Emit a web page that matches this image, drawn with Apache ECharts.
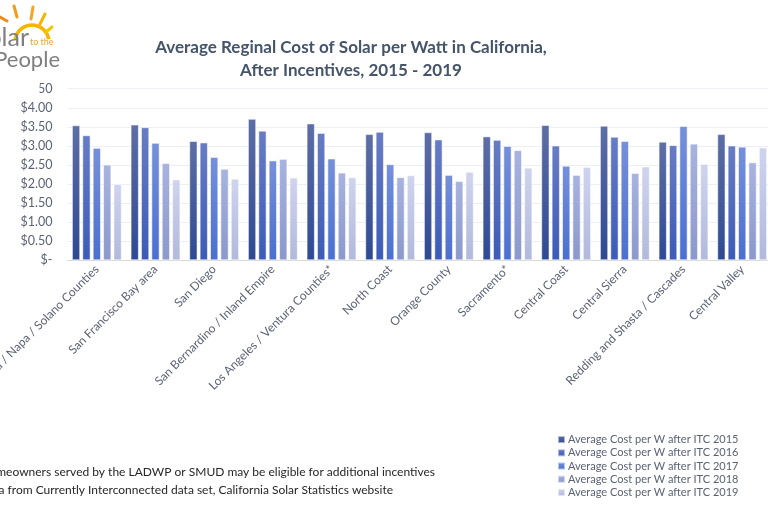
<!DOCTYPE html>
<html><head><meta charset="utf-8">
<script src="https://cdn.jsdelivr.net/npm/echarts@6/dist/echarts.min.js"></script>
<style>html,body{margin:0;padding:0;background:#fff}#c{width:768px;height:512px}</style>
</head><body><div id="c"></div>
<script>
const categories = ["Sonoma / Napa / Solano Counties","San Francisco Bay area","San Diego","San Bernardino / Inland Empire","Los Angeles / Ventura Counties*","North Coast","Orange County","Sacramento*","Central Coast","Central Sierra","Redding and Shasta / Cascades","Central Valley"];
const seriesNames = ["Average Cost per W after ITC 2015","Average Cost per W after ITC 2016","Average Cost per W after ITC 2017","Average Cost per W after ITC 2018","Average Cost per W after ITC 2019"];
const cost2015 = [3.54,3.56,3.13,3.71,3.59,3.31,3.36,3.25,3.55,3.53,3.11,3.31];
const cost2016 = [3.28,3.49,3.09,3.40,3.34,3.37,3.17,3.16,3.01,3.24,3.02,3.01];
const cost2017 = [2.95,3.08,2.71,2.62,2.67,2.52,2.24,3.00,2.48,3.13,3.52,2.98];
const cost2018 = [2.51,2.55,2.40,2.66,2.30,2.18,2.08,2.89,2.24,2.29,3.06,2.57];
const cost2019 = [2.00,2.12,2.14,2.17,2.18,2.23,2.32,2.43,2.45,2.46,2.53,2.96];
const yTicks = [0,0.5,1,1.5,2,2.5,3,3.5,4,4.5];
const titleLines = ["Average Reginal Cost of Solar per Watt in California,","After Incentives, 2015 - 2019"];
const footnotes = ["*Homeowners served by the LADWP or SMUD may be eligible for additional incentives","Data from Currently Interconnected data set, California Solar Statistics website"];

const allValues = [cost2015,cost2016,cost2017,cost2018,cost2019];
const gradients = [
  ['#5e6ea6','#2e4993'],
  ['#677cc4','#3c5bb7'],
  ['#7690da','#4a6fd1'],
  ['#a8b3e0','#8b98cb'],
  ['#cfd4ee','#b1b9dc']
];
const legendColors = ['#3b4f98','#4262c0','#4d73d6','#97a5d6','#c3cae8'];
const FONT = 'Lato';

const chart = echarts.init(document.getElementById('c'), null, {renderer:'canvas'});
const series = seriesNames.map((n,i)=>({
  name:n, type:'bar', data:allValues[i],
  barGap:'25%', barCategoryGap:'15%',
  itemStyle:{
    color:new echarts.graphic.LinearGradient(0,0,0,1,[{offset:0,color:gradients[i][0]},{offset:1,color:gradients[i][1]}]),
    borderColor:'rgba(255,255,255,0.55)', borderWidth:1
  },
  emphasis:{disabled:true}
}));

chart.setOption({
  animation:false,
  backgroundColor:'#fff',
  color:legendColors,
  grid:{left:67.5,right:-3.5,top:88.7,bottom:251.7,containLabel:false,outerBoundsMode:'none'},
  xAxis:{type:'category',data:categories,
    axisLine:{lineStyle:{color:'#d9d9d9'}},axisTick:{show:false},
    axisLabel:{interval:0,rotate:45,margin:7,color:'#5b6275',fontSize:12,fontFamily:FONT}},
  yAxis:{type:'value',min:yTicks[0],max:yTicks[yTicks.length-1],interval:yTicks[1]-yTicks[0],
    axisLine:{show:false},axisTick:{show:false},
    splitLine:{lineStyle:{color:'#eceff4'}},
    axisLabel:{margin:15,color:'#5b6275',fontSize:12.5,fontFamily:FONT,
      formatter:v=> v===0 ? '$-' : '$'+v.toFixed(2)}},
  legend:{orient:'vertical',left:552,top:428,itemWidth:7,itemHeight:7,itemGap:0,
    icon:'rect',data:seriesNames,
    textStyle:{color:'#5b6275',fontSize:11,fontFamily:FONT,lineHeight:13.2,padding:[0,0,0,-2]}},
  series:series,
  graphic:[
    {type:'text',x:351,y:48,z:50,style:{text:titleLines[0],textAlign:'center',textVerticalAlign:'middle',fill:'#44546a',font:'bold 17px '+FONT}},
    {type:'text',x:351,y:71,z:50,style:{text:titleLines[1],textAlign:'center',textVerticalAlign:'middle',fill:'#44546a',font:'bold 17px '+FONT}},
    {type:'text',x:435,y:472,z:50,style:{text:footnotes[0],textAlign:'right',textVerticalAlign:'middle',fill:'#262626',font:'12px '+FONT}},
    {type:'text',x:393,y:490,z:50,style:{text:footnotes[1],textAlign:'right',textVerticalAlign:'middle',fill:'#262626',font:'12px '+FONT}},
    // logo
    {type:'rect',z:100,shape:{x:0,y:0,width:63,height:83},style:{fill:'#fff'}},
    {type:'rect',z:100,shape:{x:0,y:0,width:39.5,height:97},style:{fill:'#fff'}},
    {type:'arc',z:101,shape:{cx:32,cy:42,r:17,startAngle:Math.PI*1.05,endAngle:Math.PI*1.95},style:{stroke:'#f7b500',lineWidth:3.5,fill:null}},
    {type:'line',z:101,shape:{x1:14,y1:6,x2:17,y2:17},style:{stroke:'#f39c1b',lineWidth:3,lineCap:'round'}},
    {type:'line',z:101,shape:{x1:33,y1:7,x2:31,y2:19},style:{stroke:'#f5a623',lineWidth:3,lineCap:'round'}},
    {type:'line',z:101,shape:{x1:45,y1:14,x2:40,y2:24},style:{stroke:'#f7b500',lineWidth:3,lineCap:'round'}},
    {type:'line',z:101,shape:{x1:52,y1:27,x2:46,y2:32},style:{stroke:'#f9c400',lineWidth:3,lineCap:'round'}},
    {type:'line',z:101,shape:{x1:0,y1:17,x2:7,y2:21},style:{stroke:'#ef8a1a',lineWidth:3,lineCap:'round'}},
    {type:'text',z:102,x:29,y:50,style:{text:'Solar',textAlign:'right',textVerticalAlign:'bottom',fill:'#7f7f7f',font:'25px '+FONT}},
    {type:'text',z:102,x:30,y:42,style:{text:'to the',textAlign:'left',textVerticalAlign:'middle',fill:'#e8a040',font:'9px '+FONT}},
    {type:'text',z:102,x:60,y:71,style:{text:'People',textAlign:'right',textVerticalAlign:'bottom',fill:'#7f7f7f',font:'22px '+FONT}}
  ]
});
</script></body></html>
